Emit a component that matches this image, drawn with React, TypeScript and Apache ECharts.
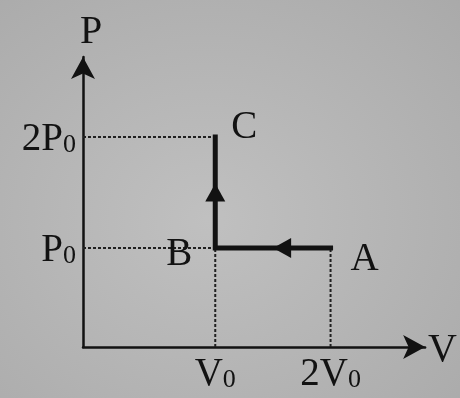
import React, { useEffect, useRef } from "react";
import * as echarts from "echarts";

// Axis ranges (diagram is not to scale at origin)
const X_MIN = -0.147;
const X_MAX = 2.82;
const Y_MIN = 0.108;
const Y_MAX = 2.72;

// Tick positions and labels
const xTickValues = [1, 2];
const xTickLabels = ["V{s|0}", "2V{s|0}"];
const yTickValues = [1, 2];
const yTickLabels = ["P{s|0}", "2P{s|0}"];

// Process path C -> B -> A (drawn A -> B -> C)
const processPath: [number, number][] = [
  [2, 1],
  [1, 1],
  [1, 2],
];

// State points
const stateNames = ["A", "B", "C"];
const stateV = [2, 1, 1];
const stateP = [1, 1, 2];

// Direction arrows on the path [V, P, rotation]
const arrowPoints: [number, number, number][] = [
  [1.58, 1, 90],
  [1, 1.5, 0],
];

const FONT = "'Liberation Serif', 'DejaVu Serif', serif";
const INK = "#121212";

export default function App() {
  const ref = useRef<HTMLDivElement>(null);

  useEffect(() => {
    if (!ref.current) return;
    const chart = echarts.init(ref.current, null, { renderer: "svg" });

    const rich = {
      s: { fontSize: 26, fontFamily: FONT, color: INK, padding: [13, 0, 0, 0] },
    };

    const dotted = (data: [number, number][]) => ({
      type: "line",
      data,
      symbol: "none",
      silent: true,
      lineStyle: { color: "#202020", width: 2, type: [3, 2] },
      z: 1,
    });

    const labelOffsets: Record<string, [number, number]> = {
      A: [34, 9],
      B: [-36, 4],
      C: [29, -12],
    };

    chart.setOption({
      animation: false,
      backgroundColor: {
        type: "radial",
        x: 0.45,
        y: 0.55,
        r: 0.8,
        colorStops: [
          { offset: 0, color: "#c0c0c0" },
          { offset: 1, color: "#a9a9a9" },
        ],
      },
      grid: { left: 83, right: 33, top: 57, bottom: 51 },
      xAxis: {
        type: "value",
        min: X_MIN,
        max: X_MAX,
        name: "V",
        nameLocation: "end",
        nameGap: 3,
        nameTextStyle: { fontFamily: FONT, fontSize: 40, color: INK, verticalAlign: "middle" },
        axisLine: {
          show: true,
          onZero: false,
          symbol: ["none", "arrow"],
          symbolSize: [18, 22],
          lineStyle: { color: INK, width: 2.5 },
        },
        axisTick: { show: false },
        splitLine: { show: false },
        axisLabel: {
          customValues: xTickValues,
          formatter: (v: number) => xTickLabels[xTickValues.indexOf(v)] ?? "",
          fontFamily: FONT,
          fontSize: 39,
          color: INK,
          margin: 5,
          rich,
        },
      },
      yAxis: {
        type: "value",
        min: Y_MIN,
        max: Y_MAX,
        name: "P",
        nameLocation: "end",
        nameGap: 8,
        nameTextStyle: {
          fontFamily: FONT,
          fontSize: 40,
          color: INK,
          align: "center",
          padding: [0, 0, 0, 16],
        },
        axisLine: {
          show: true,
          onZero: false,
          symbol: ["none", "arrow"],
          symbolSize: [18, 22],
          lineStyle: { color: INK, width: 2.5 },
        },
        axisTick: { show: false },
        splitLine: { show: false },
        axisLabel: {
          customValues: yTickValues,
          formatter: (v: number) => yTickLabels[yTickValues.indexOf(v)] ?? "",
          fontFamily: FONT,
          fontSize: 39,
          color: INK,
          margin: 7,
          rich,
        },
      },
      series: [
        dotted([[X_MIN, stateP[2]], [stateV[2], stateP[2]]]),
        dotted([[X_MIN, stateP[1]], [stateV[1], stateP[1]]]),
        dotted([[stateV[1], Y_MIN], [stateV[1], stateP[1]]]),
        dotted([[stateV[0], Y_MIN], [stateV[0], stateP[0]]]),
        {
          type: "line",
          data: processPath,
          symbol: "none",
          lineStyle: { color: INK, width: 5, cap: "square", join: "miter" },
          z: 3,
        },
        {
          type: "scatter",
          data: arrowPoints.map((a) => ({ value: [a[0], a[1]], symbolRotate: a[2] })),
          symbol: "triangle",
          symbolSize: [20, 18],
          itemStyle: { color: INK, opacity: 1 },
          z: 4,
        },
        {
          type: "scatter",
          data: stateNames.map((n, i) => ({
            name: n,
            value: [stateV[i], stateP[i]],
            label: { offset: labelOffsets[n] },
          })),
          symbolSize: 0,
          itemStyle: { opacity: 1 },
          label: {
            show: true,
            position: "inside",
            formatter: (p: any) => p.name,
            fontFamily: FONT,
            fontSize: 39,
            color: INK,
          },
          z: 5,
        },
      ],
    });

    return () => chart.dispose();
  }, []);

  return (
    <div
      ref={ref}
      style={{ position: "fixed", left: 0, top: 0, width: 460, height: 398 }}
    />
  );
}
